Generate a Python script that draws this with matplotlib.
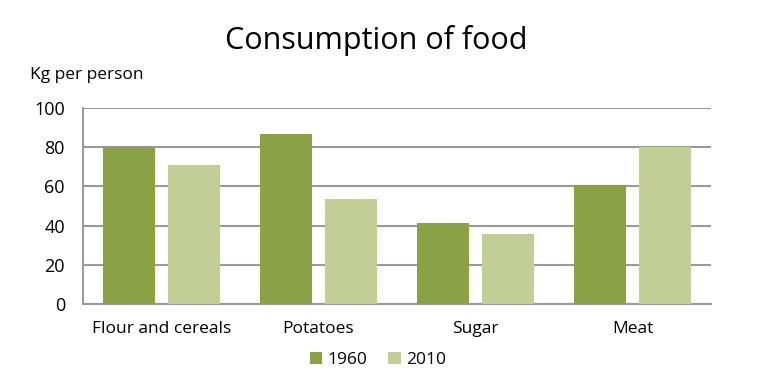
import numpy as np
import matplotlib
matplotlib.use('Agg')
import matplotlib.pyplot as plt

# data
categories = ['Flour and cereals', 'Potatoes', 'Sugar', 'Meat']
series_names = ['1960', '2010']
values_1960 = [80, 86.7, 41.2, 60.9]
values_2010 = [70.8, 53.4, 35.7, 80.3]
yticks = [0, 20, 40, 60, 80, 100]

dark_green = '#8aa245'
light_green = '#c2ce96'
grid_gray = '#9a9a9a'

plt.rcParams['font.family'] = ['Open Sans', 'DejaVu Sans']

fig = plt.figure(figsize=(7.68, 3.89), dpi=100)
# axes box in pixels: left 83, right 711, top 108, bottom 304
ax = fig.add_axes([83 / 768, 1 - 304 / 389, 628 / 768, 196 / 389])

x = np.arange(len(categories))
width = 0.33
offset = (width + 0.083) / 2
ax.bar(x - offset, values_1960, width, color=dark_green, label=series_names[0], zorder=3)
ax.bar(x + offset, values_2010, width, color=light_green, label=series_names[1], zorder=3)

ax.set_xlim(-0.5, len(categories) - 0.5)
ax.set_ylim(0, 100)
ax.set_yticks(yticks)
ax.set_xticks(x)
ax.set_xticklabels(categories, fontsize=12.5)
ax.tick_params(axis='y', labelsize=13, length=0, pad=13)
ax.tick_params(axis='x', length=0, pad=12)
ax.yaxis.grid(True, color=grid_gray, linewidth=1.5, zorder=0)

for side in ['top', 'right']:
    ax.spines[side].set_visible(False)
ax.spines['left'].set_color(grid_gray)
ax.spines['left'].set_linewidth(1.5)
ax.spines['bottom'].set_color(grid_gray)
ax.spines['bottom'].set_linewidth(1.5)

fig.text(376 / 768, 1 - 41 / 389, 'Consumption of food', fontsize=22,
         ha='center', va='center')
fig.text(30 / 768, 1 - 75 / 389, 'Kg per person', fontsize=12.5,
         ha='left', va='center')

ax.legend(loc='center', bbox_to_anchor=(378 / 768, 1 - 360 / 389),
          bbox_transform=fig.transFigure, ncol=2, frameon=False,
          fontsize=12.5, handlelength=0.7, handleheight=0.7,
          handletextpad=0.3, columnspacing=1.2)

fig.savefig('out.png', dpi=100)
